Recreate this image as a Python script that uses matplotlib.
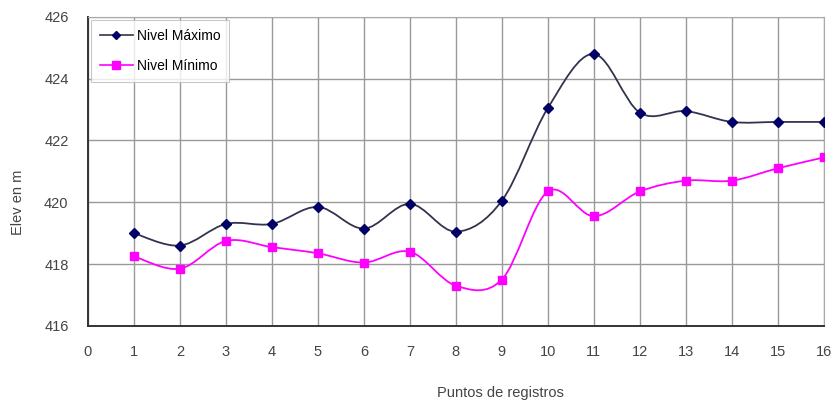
import numpy as np
import matplotlib
matplotlib.use("Agg")
import matplotlib.pyplot as plt
from matplotlib.path import Path
from matplotlib.patches import PathPatch
from matplotlib.lines import Line2D

plt.rcParams['font.family'] = ['Liberation Sans', 'DejaVu Sans']

# 데이터
puntos = [1, 2, 3, 4, 5, 6, 7, 8, 9, 10, 11, 12, 13, 14, 15, 16]
nivel_max = [419.0, 418.6, 419.3, 419.3, 419.85, 419.15, 419.95, 419.05,
             420.05, 423.05, 424.8, 422.9, 422.95, 422.6, 422.6, 422.6]
nivel_min = [418.25, 417.85, 418.75, 418.55, 418.35, 418.05, 418.4, 417.3,
             417.5, 420.35, 419.55, 420.35, 420.7, 420.7, 421.1, 421.45]
x_ticks = list(range(0, 17))
y_ticks = [416, 418, 420, 422, 424, 426]


def smooth_path(xs, ys):
    """Excel 스타일의 부드러운 선 (베지어 곡선)"""
    p = np.column_stack([xs, ys]).astype(float)
    n = len(p)
    verts = [p[0]]
    codes = [Path.MOVETO]
    for i in range(n - 1):
        p0 = p[i - 1] if i > 0 else p[i]
        p3 = p[i + 2] if i + 2 < n else p[i + 1]
        c1 = p[i] + (p[i + 1] - p0) / 6
        c2 = p[i + 1] - (p3 - p[i]) / 6
        verts += [c1, c2, p[i + 1]]
        codes += [Path.CURVE4] * 3
    return Path(verts, codes)


fig = plt.figure(figsize=(8.38, 4.11), dpi=100)
ax = fig.add_axes([0.105, 0.207, 0.878, 0.752])

col_max = '#000066'
col_min = '#FF00FF'

ax.add_patch(PathPatch(smooth_path(puntos, nivel_max), facecolor='none',
                       edgecolor='#33334d', lw=1.3, zorder=3))
ax.plot(puntos, nivel_max, ls='none', marker='D', ms=5, color=col_max, zorder=4)
ax.add_patch(PathPatch(smooth_path(puntos, nivel_min), facecolor='none',
                       edgecolor=col_min, lw=1.3, zorder=3))
ax.plot(puntos, nivel_min, ls='none', marker='s', ms=6, color=col_min, zorder=4)

ax.set_xlim(0, 16)
ax.set_ylim(416, 426)
ax.set_xticks(x_ticks)
ax.set_yticks(y_ticks)
ax.grid(True, color='#999999', lw=1.0)
ax.set_axisbelow(True)
ax.tick_params(length=0, labelsize=10.5, labelcolor='#444444', pad=14)
for s in ['top', 'right']:
    ax.spines[s].set_color('#aaaaaa')
for s in ['left', 'bottom']:
    ax.spines[s].set_color('#333333')
    ax.spines[s].set_linewidth(1.4)

ax.set_xlabel('Puntos de registros', fontsize=10.5, color='#444444')
ax.xaxis.set_label_coords(0.56, -0.195)
ax.set_ylabel('Elev en m', fontsize=10.5, color='#444444')
ax.yaxis.set_label_coords(-0.085, 0.4)

handles = [Line2D([], [], color='#33334d', marker='D', ms=4, lw=1.2, markerfacecolor=col_max,
                  markeredgecolor=col_max),
           Line2D([], [], color=col_min, marker='s', ms=6, lw=1.2)]
leg = ax.legend(handles, ['Nivel Máximo', 'Nivel Mínimo'], loc='upper left',
                bbox_to_anchor=(0.0, 1.0), fontsize=10, frameon=True, fancybox=False,
                edgecolor='#bbbbbb', handlelength=2.4, handletextpad=0.3,
                borderaxespad=0.25, labelspacing=1.2, borderpad=0.6)
leg.get_frame().set_linewidth(0.8)

fig.savefig('out.png', dpi=100)
